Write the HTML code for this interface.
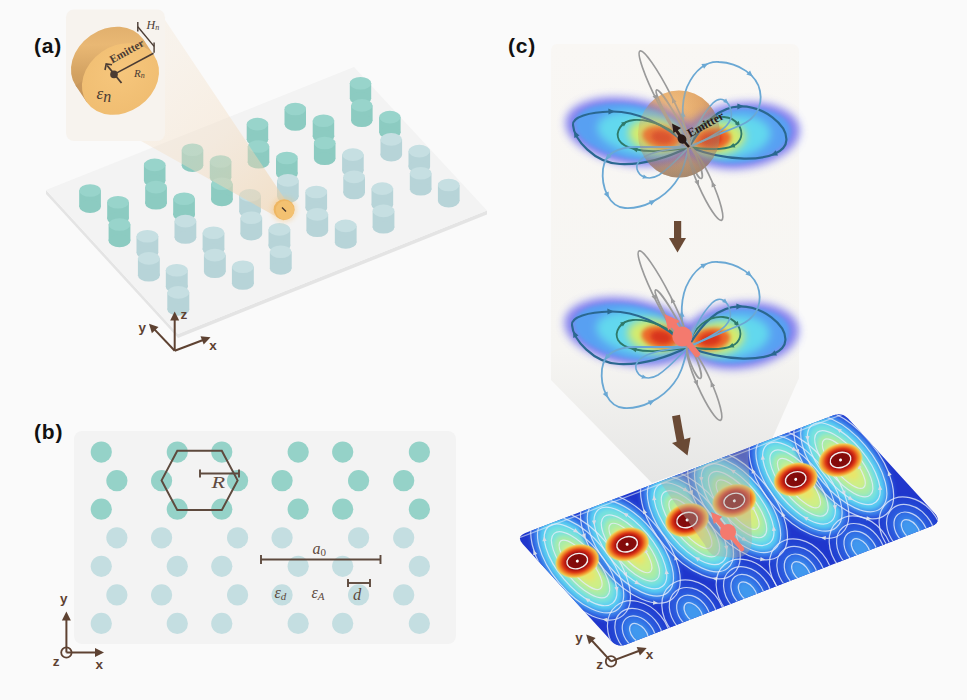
<!DOCTYPE html>
<html><head><meta charset="utf-8"><style>html,body{margin:0;padding:0;background:#fafafa;}svg{display:block;}</style></head>
<body><svg width="967" height="700" viewBox="0 0 967 700"><defs>
<filter id="blur1" x="-20%" y="-20%" width="140%" height="140%"><feGaussianBlur stdDeviation="0.6"/></filter>
<filter id="blur2" x="-30%" y="-30%" width="160%" height="160%"><feGaussianBlur stdDeviation="2"/></filter>
<filter id="blurL" x="-30%" y="-30%" width="160%" height="160%"><feGaussianBlur stdDeviation="4"/></filter>
<filter id="blur4" x="-30%" y="-30%" width="160%" height="160%"><feGaussianBlur stdDeviation="4"/></filter>
<linearGradient id="goldSide" x1="0" y1="0.9" x2="0.75" y2="0">
 <stop offset="0" stop-color="#c4935a"/><stop offset="0.4" stop-color="#d3a262"/><stop offset="0.75" stop-color="#e9b874"/><stop offset="1" stop-color="#e0ae6c"/>
</linearGradient>
<radialGradient id="goldFront" cx="0.55" cy="0.4" r="0.7">
 <stop offset="0" stop-color="#f6c67c"/><stop offset="1" stop-color="#efbc70"/>
</radialGradient>

<radialGradient id="lobeL" cx="0.62" cy="0.5" r="0.6" fx="0.72" fy="0.5">
 <stop offset="0" stop-color="#d8281a"/><stop offset="0.14" stop-color="#ee6a2a"/><stop offset="0.28" stop-color="#f4d24a"/>
 <stop offset="0.42" stop-color="#a6ec8a"/><stop offset="0.56" stop-color="#58dcec"/><stop offset="0.72" stop-color="#4a9cf4"/>
 <stop offset="0.88" stop-color="#4a62f0"/><stop offset="1" stop-color="#5a50f0" stop-opacity="0"/>
</radialGradient>
<radialGradient id="lobeR" cx="0.38" cy="0.5" r="0.6" fx="0.28" fy="0.5">
 <stop offset="0" stop-color="#d8281a"/><stop offset="0.14" stop-color="#ee6a2a"/><stop offset="0.28" stop-color="#f4d24a"/>
 <stop offset="0.42" stop-color="#a6ec8a"/><stop offset="0.56" stop-color="#58dcec"/><stop offset="0.72" stop-color="#4a9cf4"/>
 <stop offset="0.88" stop-color="#4a62f0"/><stop offset="1" stop-color="#5a50f0" stop-opacity="0"/>
</radialGradient>
<radialGradient id="sphere" cx="0.42" cy="0.2" r="0.85">
 <stop offset="0" stop-color="#f2b870"/><stop offset="0.5" stop-color="#dc9a58"/><stop offset="1" stop-color="#9c8068"/>
</radialGradient>
<radialGradient id="sphereRim" cx="0.4" cy="0.35" r="0.7">
 <stop offset="0.6" stop-color="#b08a68" stop-opacity="0"/><stop offset="1" stop-color="#9c7c62" stop-opacity="0.45"/>
</radialGradient>
<radialGradient id="pLobe" cx="0.5" cy="0.5" r="0.5" fx="0.5" fy="0.36">
 <stop offset="0" stop-color="#f0e466"/><stop offset="0.22" stop-color="#d4f078"/><stop offset="0.4" stop-color="#92ecc0"/><stop offset="0.56" stop-color="#5cd2f4"/><stop offset="0.72" stop-color="#4898f2"/><stop offset="0.87" stop-color="#2f5ee2"/><stop offset="1" stop-color="#2138cf" stop-opacity="0"/>
</radialGradient>
<radialGradient id="sHot" cx="0.5" cy="0.5" r="0.5">
 <stop offset="0" stop-color="#7e0a0a"/><stop offset="0.44" stop-color="#880c0c"/><stop offset="0.52" stop-color="#b01410"/><stop offset="0.66" stop-color="#dc3a16"/><stop offset="0.8" stop-color="#f08a2a"/><stop offset="0.91" stop-color="#f2c64e"/><stop offset="1" stop-color="#e8e070" stop-opacity="0"/>
</radialGradient>
<radialGradient id="pHot" cx="0.5" cy="0.5" r="0.5">
 <stop offset="0" stop-color="#7a0808"/><stop offset="0.45" stop-color="#920c0c"/><stop offset="0.6" stop-color="#c81c10"/><stop offset="0.75" stop-color="#f06a22"/><stop offset="0.88" stop-color="#f6b840"/><stop offset="1" stop-color="#f0e070" stop-opacity="0"/>
</radialGradient>
<radialGradient id="pLow" cx="0.5" cy="0.5" r="0.5">
 <stop offset="0" stop-color="#58c8f8"/><stop offset="0.45" stop-color="#3c8cf4"/><stop offset="1" stop-color="#2a50e0" stop-opacity="0"/>
</radialGradient>
<linearGradient id="planeBase" x1="0" y1="0" x2="1" y2="0">
 <stop offset="0" stop-color="#2a3fd8"/><stop offset="1" stop-color="#2438d4"/>
</linearGradient>
<linearGradient id="coneA" x1="160" y1="60" x2="285" y2="208" gradientUnits="userSpaceOnUse">
 <stop offset="0" stop-color="#f3e2cc" stop-opacity="0.32"/><stop offset="0.5" stop-color="#f3dcc0" stop-opacity="0.42"/><stop offset="1" stop-color="#f0cfa4" stop-opacity="0.55"/></linearGradient><linearGradient id="coneG" x1="0" y1="44" x2="0" y2="482" gradientUnits="userSpaceOnUse">
 <stop offset="0" stop-color="#f9f7f4"/><stop offset="0.7" stop-color="#f6f5f2"/><stop offset="1" stop-color="#e6e6e5"/></linearGradient></defs><rect width="967" height="700" fill="#fafafa"/><polygon points="46,190 178,334 487,210.5 487,214.5 178,338 46,194" fill="#e4e4e4"/>
<polygon points="46,190 354,67 487,210.5 178,334" fill="#f3f3f3"/>
<g filter="url(#blur1)"><rect x="349.8" y="83.2" width="21.4" height="15.2" fill="#8ccbc1"/><ellipse cx="360.5" cy="98.4" rx="10.7" ry="6.3" fill="#8ccbc1"/><ellipse cx="360.5" cy="83.2" rx="10.7" ry="6.3" fill="#98d4cb"/></g>
<g filter="url(#blur1)"><rect x="351.1" y="105.4" width="21.5" height="15.4" fill="#8ccbc1"/><ellipse cx="361.8" cy="120.8" rx="10.7" ry="6.3" fill="#8ccbc1"/><ellipse cx="361.8" cy="105.4" rx="10.7" ry="6.3" fill="#98d4cb"/></g>
<g filter="url(#blur1)"><rect x="284.5" y="109.0" width="21.5" height="15.4" fill="#8ccbc1"/><ellipse cx="295.3" cy="124.5" rx="10.7" ry="6.3" fill="#8ccbc1"/><ellipse cx="295.3" cy="109.0" rx="10.7" ry="6.3" fill="#98d4cb"/></g>
<g filter="url(#blur1)"><rect x="379.1" y="117.1" width="21.5" height="15.5" fill="#8ccbc1"/><ellipse cx="389.9" cy="132.6" rx="10.7" ry="6.3" fill="#8ccbc1"/><ellipse cx="389.9" cy="117.1" rx="10.7" ry="6.3" fill="#98d4cb"/></g>
<g filter="url(#blur1)"><rect x="312.7" y="120.7" width="21.5" height="15.5" fill="#8ccbc1"/><ellipse cx="323.5" cy="136.2" rx="10.8" ry="6.3" fill="#8ccbc1"/><ellipse cx="323.5" cy="120.7" rx="10.8" ry="6.3" fill="#98d4cb"/></g>
<g filter="url(#blur1)"><rect x="246.7" y="124.1" width="21.5" height="15.6" fill="#8ccbc1"/><ellipse cx="257.5" cy="139.6" rx="10.8" ry="6.3" fill="#8ccbc1"/><ellipse cx="257.5" cy="124.1" rx="10.8" ry="6.3" fill="#98d4cb"/></g>
<g filter="url(#blur1)"><rect x="380.5" y="139.4" width="21.6" height="15.7" fill="#b7d4d8"/><ellipse cx="391.2" cy="155.1" rx="10.8" ry="6.3" fill="#b7d4d8"/><ellipse cx="391.2" cy="139.4" rx="10.8" ry="6.3" fill="#c6dfe2"/></g>
<g filter="url(#blur1)"><rect x="313.9" y="143.0" width="21.6" height="15.7" fill="#8ccbc1"/><ellipse cx="324.7" cy="158.7" rx="10.8" ry="6.3" fill="#8ccbc1"/><ellipse cx="324.7" cy="143.0" rx="10.8" ry="6.3" fill="#98d4cb"/></g>
<g filter="url(#blur1)"><rect x="247.7" y="146.5" width="21.6" height="15.8" fill="#8ccbc1"/><ellipse cx="258.5" cy="162.2" rx="10.8" ry="6.3" fill="#8ccbc1"/><ellipse cx="258.5" cy="146.5" rx="10.8" ry="6.3" fill="#98d4cb"/></g>
<g filter="url(#blur1)"><rect x="181.7" y="149.8" width="21.6" height="15.8" fill="#8ccbc1"/><ellipse cx="192.5" cy="165.6" rx="10.8" ry="6.3" fill="#8ccbc1"/><ellipse cx="192.5" cy="149.8" rx="10.8" ry="6.3" fill="#98d4cb"/></g>
<g filter="url(#blur1)"><rect x="408.5" y="151.1" width="21.6" height="15.8" fill="#b7d4d8"/><ellipse cx="419.3" cy="166.9" rx="10.8" ry="6.3" fill="#b7d4d8"/><ellipse cx="419.3" cy="151.1" rx="10.8" ry="6.3" fill="#c6dfe2"/></g>
<g filter="url(#blur1)"><rect x="342.1" y="154.6" width="21.6" height="15.8" fill="#b7d4d8"/><ellipse cx="352.9" cy="170.4" rx="10.8" ry="6.3" fill="#b7d4d8"/><ellipse cx="352.9" cy="154.6" rx="10.8" ry="6.3" fill="#c6dfe2"/></g>
<g filter="url(#blur1)"><rect x="276.0" y="158.0" width="21.6" height="15.9" fill="#8ccbc1"/><ellipse cx="286.9" cy="173.9" rx="10.8" ry="6.3" fill="#8ccbc1"/><ellipse cx="286.9" cy="158.0" rx="10.8" ry="6.3" fill="#98d4cb"/></g>
<g filter="url(#blur1)"><rect x="209.8" y="161.5" width="21.6" height="15.9" fill="#8ccbc1"/><ellipse cx="220.6" cy="177.4" rx="10.8" ry="6.3" fill="#8ccbc1"/><ellipse cx="220.6" cy="161.5" rx="10.8" ry="6.3" fill="#98d4cb"/></g>
<g filter="url(#blur1)"><rect x="143.9" y="164.9" width="21.6" height="15.9" fill="#8ccbc1"/><ellipse cx="154.7" cy="180.8" rx="10.8" ry="6.3" fill="#8ccbc1"/><ellipse cx="154.7" cy="164.9" rx="10.8" ry="6.3" fill="#98d4cb"/></g>
<g filter="url(#blur1)"><rect x="409.8" y="173.3" width="21.7" height="16.0" fill="#b7d4d8"/><ellipse cx="420.7" cy="189.3" rx="10.8" ry="6.3" fill="#b7d4d8"/><ellipse cx="420.7" cy="173.3" rx="10.8" ry="6.3" fill="#c6dfe2"/></g>
<g filter="url(#blur1)"><rect x="343.3" y="176.9" width="21.7" height="16.0" fill="#b7d4d8"/><ellipse cx="354.1" cy="193.0" rx="10.8" ry="6.3" fill="#b7d4d8"/><ellipse cx="354.1" cy="176.9" rx="10.8" ry="6.3" fill="#c6dfe2"/></g>
<g filter="url(#blur1)"><rect x="277.0" y="180.4" width="21.7" height="16.0" fill="#b7d4d8"/><ellipse cx="287.9" cy="196.5" rx="10.8" ry="6.3" fill="#b7d4d8"/><ellipse cx="287.9" cy="180.4" rx="10.8" ry="6.3" fill="#c6dfe2"/></g>
<g filter="url(#blur1)"><rect x="211.1" y="183.8" width="21.7" height="16.1" fill="#8ccbc1"/><ellipse cx="221.9" cy="199.9" rx="10.8" ry="6.3" fill="#8ccbc1"/><ellipse cx="221.9" cy="183.8" rx="10.8" ry="6.3" fill="#98d4cb"/></g>
<g filter="url(#blur1)"><rect x="437.9" y="185.0" width="21.7" height="16.1" fill="#b7d4d8"/><ellipse cx="448.7" cy="201.1" rx="10.8" ry="6.3" fill="#b7d4d8"/><ellipse cx="448.7" cy="185.0" rx="10.8" ry="6.3" fill="#c6dfe2"/></g>
<g filter="url(#blur1)"><rect x="145.2" y="187.1" width="21.7" height="16.1" fill="#8ccbc1"/><ellipse cx="156.0" cy="203.2" rx="10.9" ry="6.3" fill="#8ccbc1"/><ellipse cx="156.0" cy="187.1" rx="10.9" ry="6.3" fill="#98d4cb"/></g>
<g filter="url(#blur1)"><rect x="371.5" y="188.6" width="21.7" height="16.1" fill="#b7d4d8"/><ellipse cx="382.3" cy="204.7" rx="10.9" ry="6.3" fill="#b7d4d8"/><ellipse cx="382.3" cy="188.6" rx="10.9" ry="6.3" fill="#c6dfe2"/></g>
<g filter="url(#blur1)"><rect x="79.2" y="190.5" width="21.7" height="16.1" fill="#8ccbc1"/><ellipse cx="90.1" cy="206.6" rx="10.9" ry="6.3" fill="#8ccbc1"/><ellipse cx="90.1" cy="190.5" rx="10.9" ry="6.3" fill="#98d4cb"/></g>
<g filter="url(#blur1)"><rect x="305.4" y="192.0" width="21.7" height="16.1" fill="#b7d4d8"/><ellipse cx="316.3" cy="208.1" rx="10.9" ry="6.3" fill="#b7d4d8"/><ellipse cx="316.3" cy="192.0" rx="10.9" ry="6.3" fill="#c6dfe2"/></g>
<g filter="url(#blur1)"><rect x="239.2" y="195.4" width="21.7" height="16.2" fill="#b7d4d8"/><ellipse cx="250.0" cy="211.6" rx="10.9" ry="6.3" fill="#b7d4d8"/><ellipse cx="250.0" cy="195.4" rx="10.9" ry="6.3" fill="#c6dfe2"/></g>
<g filter="url(#blur1)"><rect x="173.2" y="198.8" width="21.7" height="16.2" fill="#8ccbc1"/><ellipse cx="184.1" cy="215.0" rx="10.9" ry="6.3" fill="#8ccbc1"/><ellipse cx="184.1" cy="198.8" rx="10.9" ry="6.3" fill="#98d4cb"/></g>
<g filter="url(#blur1)"><rect x="107.2" y="202.2" width="21.7" height="16.2" fill="#8ccbc1"/><ellipse cx="118.0" cy="218.5" rx="10.9" ry="6.3" fill="#8ccbc1"/><ellipse cx="118.0" cy="202.2" rx="10.9" ry="6.3" fill="#98d4cb"/></g>
<g filter="url(#blur1)"><rect x="372.6" y="210.9" width="21.8" height="16.3" fill="#b7d4d8"/><ellipse cx="383.5" cy="227.2" rx="10.9" ry="6.3" fill="#b7d4d8"/><ellipse cx="383.5" cy="210.9" rx="10.9" ry="6.3" fill="#c6dfe2"/></g>
<g filter="url(#blur1)"><rect x="306.4" y="214.4" width="21.8" height="16.3" fill="#b7d4d8"/><ellipse cx="317.3" cy="230.7" rx="10.9" ry="6.3" fill="#b7d4d8"/><ellipse cx="317.3" cy="214.4" rx="10.9" ry="6.3" fill="#c6dfe2"/></g>
<g filter="url(#blur1)"><rect x="240.4" y="217.8" width="21.8" height="16.4" fill="#b7d4d8"/><ellipse cx="251.3" cy="234.1" rx="10.9" ry="6.3" fill="#b7d4d8"/><ellipse cx="251.3" cy="217.8" rx="10.9" ry="6.3" fill="#c6dfe2"/></g>
<g filter="url(#blur1)"><rect x="174.5" y="221.1" width="21.8" height="16.4" fill="#b7d4d8"/><ellipse cx="185.4" cy="237.5" rx="10.9" ry="6.3" fill="#b7d4d8"/><ellipse cx="185.4" cy="221.1" rx="10.9" ry="6.3" fill="#c6dfe2"/></g>
<g filter="url(#blur1)"><rect x="108.6" y="224.5" width="21.8" height="16.4" fill="#8ccbc1"/><ellipse cx="119.5" cy="240.9" rx="10.9" ry="6.3" fill="#8ccbc1"/><ellipse cx="119.5" cy="224.5" rx="10.9" ry="6.3" fill="#98d4cb"/></g>
<g filter="url(#blur1)"><rect x="334.8" y="225.9" width="21.8" height="16.4" fill="#b7d4d8"/><ellipse cx="345.7" cy="242.4" rx="10.9" ry="6.3" fill="#b7d4d8"/><ellipse cx="345.7" cy="225.9" rx="10.9" ry="6.3" fill="#c6dfe2"/></g>
<g filter="url(#blur1)"><rect x="268.5" y="229.4" width="21.8" height="16.5" fill="#b7d4d8"/><ellipse cx="279.4" cy="245.9" rx="10.9" ry="6.3" fill="#b7d4d8"/><ellipse cx="279.4" cy="229.4" rx="10.9" ry="6.3" fill="#c6dfe2"/></g>
<g filter="url(#blur1)"><rect x="202.6" y="232.8" width="21.8" height="16.5" fill="#b7d4d8"/><ellipse cx="213.5" cy="249.3" rx="10.9" ry="6.3" fill="#b7d4d8"/><ellipse cx="213.5" cy="232.8" rx="10.9" ry="6.3" fill="#c6dfe2"/></g>
<g filter="url(#blur1)"><rect x="136.5" y="236.2" width="21.8" height="16.5" fill="#b7d4d8"/><ellipse cx="147.4" cy="252.7" rx="10.9" ry="6.3" fill="#b7d4d8"/><ellipse cx="147.4" cy="236.2" rx="10.9" ry="6.3" fill="#c6dfe2"/></g>
<g filter="url(#blur1)"><rect x="269.8" y="251.7" width="21.9" height="16.7" fill="#b7d4d8"/><ellipse cx="280.7" cy="268.4" rx="10.9" ry="6.3" fill="#b7d4d8"/><ellipse cx="280.7" cy="251.7" rx="10.9" ry="6.3" fill="#c6dfe2"/></g>
<g filter="url(#blur1)"><rect x="203.9" y="255.1" width="21.9" height="16.7" fill="#b7d4d8"/><ellipse cx="214.8" cy="271.8" rx="10.9" ry="6.3" fill="#b7d4d8"/><ellipse cx="214.8" cy="255.1" rx="10.9" ry="6.3" fill="#c6dfe2"/></g>
<g filter="url(#blur1)"><rect x="137.9" y="258.4" width="21.9" height="16.7" fill="#b7d4d8"/><ellipse cx="148.9" cy="275.2" rx="11.0" ry="6.3" fill="#b7d4d8"/><ellipse cx="148.9" cy="258.4" rx="11.0" ry="6.3" fill="#c6dfe2"/></g>
<g filter="url(#blur1)"><rect x="231.9" y="266.8" width="21.9" height="16.8" fill="#b7d4d8"/><ellipse cx="242.9" cy="283.5" rx="11.0" ry="6.3" fill="#b7d4d8"/><ellipse cx="242.9" cy="266.8" rx="11.0" ry="6.3" fill="#c6dfe2"/></g>
<g filter="url(#blur1)"><rect x="165.8" y="270.2" width="21.9" height="16.8" fill="#b7d4d8"/><ellipse cx="176.8" cy="287.0" rx="11.0" ry="6.3" fill="#b7d4d8"/><ellipse cx="176.8" cy="270.2" rx="11.0" ry="6.3" fill="#c6dfe2"/></g>
<g filter="url(#blur1)"><rect x="167.3" y="292.4" width="22.0" height="17.0" fill="#b7d4d8"/><ellipse cx="178.3" cy="309.4" rx="11.0" ry="6.3" fill="#b7d4d8"/><ellipse cx="178.3" cy="292.4" rx="11.0" ry="6.3" fill="#c6dfe2"/></g>
<polygon points="141,141 158,9.5 287.5,203 284,221" fill="url(#coneA)"/>
<circle cx="284.1" cy="209.6" r="13" fill="#f6c47a" opacity="0.35" filter="url(#blur2)"/>
<ellipse cx="284.1" cy="209.6" rx="10.5" ry="10.3" fill="#eeb662"/>
<ellipse cx="285" cy="210.3" rx="9.2" ry="9.5" fill="#f3c171"/>
<line x1="282" y1="207.5" x2="286" y2="211.5" stroke="#3d2f28" stroke-width="1.2"/>
<rect x="66" y="9.5" width="99" height="131.5" rx="8" fill="#f7f3ee"/>
<ellipse cx="109.5" cy="62.5" rx="41" ry="33" transform="rotate(-35.0 109.5 62.5)" fill="url(#goldSide)"/>
<polygon points="86.6,102.0 75.6,85.5 143.4,39.5 154.4,56.0" fill="url(#goldSide)"/>
<ellipse cx="120.5" cy="79.0" rx="41" ry="33" transform="rotate(-35.0 120.5 79.0)" fill="url(#goldFront)"/>
<line x1="114" y1="74.4" x2="153.5" y2="53.3" stroke="#4a3b33" stroke-width="1.6"/>
<circle cx="114" cy="74.4" r="3.8" fill="#4a3b33"/>
<line x1="121.5" y1="83" x2="107.2" y2="65.5" stroke="#4a3b33" stroke-width="1.8"/>
<polyline points="105,70 106.2,64 112,64.8" fill="none" stroke="#4a3b33" stroke-width="1.6"/>
<line x1="137.8" y1="26.8" x2="154.1" y2="46.4" stroke="#4a3b33" stroke-width="1.4"/>
<line x1="137.8" y1="22" x2="137.8" y2="31.5" stroke="#4a3b33" stroke-width="1.4"/>
<line x1="154.1" y1="42.5" x2="154.1" y2="52.7" stroke="#4a3b33" stroke-width="1.4"/>
<text x="146.5" y="28.6" font-family="Liberation Serif, serif" font-style="italic" font-size="12" fill="#4a3b33">H<tspan font-size="8" dy="1.5">n</tspan></text>
<text x="134" y="76.5" font-family="Liberation Serif, serif" font-style="italic" font-size="11" fill="#4a3b33">R<tspan font-size="8" dy="1.2">n</tspan></text>
<text x="96.5" y="99" font-family="Liberation Serif, serif" font-style="italic" font-size="17" fill="#4a3b33">ε<tspan font-size="16" dy="2.5">n</tspan></text>
<text transform="translate(112.3,63.6) rotate(-29.3)" font-family="Liberation Serif, serif" font-weight="bold" font-size="11.2" fill="#4a3b33">Emitter</text>
<line x1="174.7" y1="350.7" x2="174.7" y2="318.8" stroke="#5e4232" stroke-width="2"/>
<polygon points="174.7,311.6 179.2,320.6 170.2,320.6" fill="#5e4232"/>
<text x="180.5" y="319.3" font-family="Liberation Sans, sans-serif" font-weight="bold" font-size="13.5" fill="#5e4232">z</text>
<line x1="174.7" y1="350.7" x2="154.0" y2="328.9" stroke="#5e4232" stroke-width="2"/>
<polygon points="149.0,323.7 158.5,327.1 151.9,333.3" fill="#5e4232"/>
<text x="138.6" y="331.5" font-family="Liberation Sans, sans-serif" font-weight="bold" font-size="13.5" fill="#5e4232">y</text>
<line x1="174.7" y1="350.7" x2="203.8" y2="339.7" stroke="#5e4232" stroke-width="2"/>
<polygon points="210.5,337.2 203.7,344.6 200.5,336.2" fill="#5e4232"/>
<text x="209.3" y="349.5" font-family="Liberation Sans, sans-serif" font-weight="bold" font-size="13.5" fill="#5e4232">x</text>
<text x="34" y="53.4" font-family="Liberation Sans, sans-serif" font-weight="bold" font-size="21" letter-spacing="0.8" fill="#111">(a)</text><rect x="74" y="431" width="382" height="213" rx="8" fill="#f3f3f3"/>
<circle cx="101.3" cy="452.1" r="10.6" fill="#95d2c8"/>
<circle cx="177.3" cy="452.1" r="10.6" fill="#95d2c8"/>
<circle cx="221.8" cy="452.1" r="10.6" fill="#95d2c8"/>
<circle cx="298.2" cy="452.1" r="10.6" fill="#95d2c8"/>
<circle cx="342.7" cy="452.1" r="10.6" fill="#95d2c8"/>
<circle cx="419.4" cy="452.1" r="10.6" fill="#95d2c8"/>
<circle cx="116.9" cy="480.7" r="10.6" fill="#95d2c8"/>
<circle cx="161.6" cy="480.7" r="10.6" fill="#95d2c8"/>
<circle cx="237.6" cy="480.7" r="10.6" fill="#95d2c8"/>
<circle cx="282.1" cy="480.7" r="10.6" fill="#95d2c8"/>
<circle cx="358.6" cy="480.7" r="10.6" fill="#95d2c8"/>
<circle cx="403.7" cy="480.7" r="10.6" fill="#95d2c8"/>
<circle cx="101.3" cy="509.2" r="10.6" fill="#95d2c8"/>
<circle cx="177.3" cy="509.2" r="10.6" fill="#95d2c8"/>
<circle cx="221.8" cy="509.2" r="10.6" fill="#95d2c8"/>
<circle cx="298.2" cy="509.2" r="10.6" fill="#95d2c8"/>
<circle cx="342.7" cy="509.2" r="10.6" fill="#95d2c8"/>
<circle cx="419.4" cy="509.2" r="10.6" fill="#95d2c8"/>
<circle cx="116.9" cy="537.8" r="10.6" fill="#c4dee1"/>
<circle cx="161.6" cy="537.8" r="10.6" fill="#c4dee1"/>
<circle cx="237.6" cy="537.8" r="10.6" fill="#c4dee1"/>
<circle cx="282.1" cy="537.8" r="10.6" fill="#c4dee1"/>
<circle cx="358.6" cy="537.8" r="10.6" fill="#c4dee1"/>
<circle cx="403.7" cy="537.8" r="10.6" fill="#c4dee1"/>
<circle cx="101.3" cy="566.3" r="10.6" fill="#c4dee1"/>
<circle cx="177.3" cy="566.3" r="10.6" fill="#c4dee1"/>
<circle cx="221.8" cy="566.3" r="10.6" fill="#c4dee1"/>
<circle cx="298.2" cy="566.3" r="10.6" fill="#c4dee1"/>
<circle cx="342.7" cy="566.3" r="10.6" fill="#c4dee1"/>
<circle cx="419.4" cy="566.3" r="10.6" fill="#c4dee1"/>
<circle cx="116.9" cy="594.9" r="10.6" fill="#c4dee1"/>
<circle cx="161.6" cy="594.9" r="10.6" fill="#c4dee1"/>
<circle cx="237.6" cy="594.9" r="10.6" fill="#c4dee1"/>
<circle cx="282.1" cy="594.9" r="10.6" fill="#c4dee1"/>
<circle cx="358.6" cy="594.9" r="10.6" fill="#c4dee1"/>
<circle cx="403.7" cy="594.9" r="10.6" fill="#c4dee1"/>
<circle cx="101.3" cy="623.4" r="10.6" fill="#c4dee1"/>
<circle cx="177.3" cy="623.4" r="10.6" fill="#c4dee1"/>
<circle cx="221.8" cy="623.4" r="10.6" fill="#c4dee1"/>
<circle cx="298.2" cy="623.4" r="10.6" fill="#c4dee1"/>
<circle cx="342.7" cy="623.4" r="10.6" fill="#c4dee1"/>
<circle cx="419.4" cy="623.4" r="10.6" fill="#c4dee1"/>
<polygon points="177.3,450.8 221.8,450.8 237.6,480.4 221.8,510.1 177.3,510.1 161.6,480.4" fill="none" stroke="#5e4a3e" stroke-width="2"/>
<line x1="200" y1="473.5" x2="239" y2="473.5" stroke="#5e4a3e" stroke-width="1.9"/>
<line x1="200" y1="469.5" x2="200" y2="477.5" stroke="#5e4a3e" stroke-width="1.9"/>
<line x1="239" y1="469.5" x2="239" y2="477.5" stroke="#5e4a3e" stroke-width="1.9"/>
<text transform="translate(211.5,487.6) scale(1.35,1)" font-family="Liberation Serif, serif" font-style="italic" font-size="16.5" fill="#5e4a3e">R</text>
<line x1="261" y1="559.5" x2="380.5" y2="559.5" stroke="#5e4a3e" stroke-width="1.9"/>
<line x1="261" y1="555" x2="261" y2="564" stroke="#5e4a3e" stroke-width="1.9"/>
<line x1="380.5" y1="555" x2="380.5" y2="564" stroke="#5e4a3e" stroke-width="1.9"/>
<text x="312.5" y="553.8" font-family="Liberation Serif, serif" font-style="italic" font-size="16" fill="#5e4a3e">a<tspan font-size="11" dy="2" font-style="normal">0</tspan></text>
<line x1="348" y1="583" x2="370" y2="583" stroke="#5e4a3e" stroke-width="1.9"/>
<line x1="348" y1="579" x2="348" y2="587" stroke="#5e4a3e" stroke-width="1.9"/>
<line x1="370" y1="579" x2="370" y2="587" stroke="#5e4a3e" stroke-width="1.9"/>
<text x="353" y="600.2" font-family="Liberation Serif, serif" font-style="italic" font-size="16.5" fill="#5e4a3e">d</text>
<text x="274.5" y="598.2" font-family="Liberation Serif, serif" font-style="italic" font-size="16" fill="#5e4a3e">ε<tspan font-size="11" dy="2">d</tspan></text>
<text x="311.5" y="598.2" font-family="Liberation Serif, serif" font-style="italic" font-size="16" fill="#5e4a3e">ε<tspan font-size="11" dy="2">A</tspan></text>
<line x1="66.4" y1="652.5" x2="66.4" y2="619" stroke="#5e4232" stroke-width="2"/>
<polygon points="66.4,611.5 70.9,620.5 61.9,620.5" fill="#5e4232"/>
<line x1="66.4" y1="652.5" x2="97" y2="652.5" stroke="#5e4232" stroke-width="2"/>
<polygon points="104.0,652.5 95.0,657.0 95.0,648.0" fill="#5e4232"/>
<circle cx="66.4" cy="652.5" r="5.2" fill="none" stroke="#5e4232" stroke-width="1.8"/>
<text x="60" y="603" font-family="Liberation Sans, sans-serif" font-weight="bold" font-size="13.5" fill="#5e4232">y</text>
<text x="52.8" y="665.5" font-family="Liberation Sans, sans-serif" font-weight="bold" font-size="13.5" fill="#5e4232">z</text>
<text x="95.6" y="668.8" font-family="Liberation Sans, sans-serif" font-weight="bold" font-size="13.5" fill="#5e4232">x</text>
<text x="34" y="438.6" font-family="Liberation Sans, sans-serif" font-weight="bold" font-size="21" letter-spacing="0.8" fill="#111">(b)</text><path d="M557,44 H791 Q799,44 799,52 V378 L772,439 L652,483 L551,380 V52 Q551,44 557,44 Z" fill="url(#coneG)"/>
<ellipse cx="679" cy="134" rx="41" ry="43.5" fill="url(#sphere)" opacity="0.85"/>
<g transform="translate(689,147) rotate(10)">
<ellipse cx="-60" cy="-5" rx="66" ry="33" fill="#5c58ee" opacity="0.75" filter="url(#blur4)"/>
<ellipse cx="-60" cy="-5" rx="57" ry="27" fill="#58a0f2" filter="url(#blur2)"/>
<ellipse cx="-52" cy="-5" rx="42.0" ry="21" fill="#62d8ee" filter="url(#blur4)"/>
<ellipse cx="-35" cy="-5" rx="27" ry="16" fill="#d6ec6c" filter="url(#blur4)"/>
<ellipse cx="-29" cy="-5" rx="19" ry="11" fill="#ec6a2a" filter="url(#blur2)"/>
<ellipse cx="-28" cy="-5" rx="11" ry="6.5" fill="#d8341e" filter="url(#blur2)"/>
</g>
<g transform="translate(689,147) rotate(-7)">
<ellipse cx="53" cy="-5" rx="59" ry="33" fill="#5c58ee" opacity="0.75" filter="url(#blur4)"/>
<ellipse cx="53" cy="-5" rx="50" ry="27" fill="#58a0f2" filter="url(#blur2)"/>
<ellipse cx="45" cy="-5" rx="37.8" ry="21" fill="#62d8ee" filter="url(#blur4)"/>
<ellipse cx="30" cy="-5" rx="27" ry="16" fill="#d6ec6c" filter="url(#blur4)"/>
<ellipse cx="24" cy="-5" rx="19" ry="11" fill="#ec6a2a" filter="url(#blur2)"/>
<ellipse cx="23" cy="-5" rx="11" ry="6.5" fill="#d8341e" filter="url(#blur2)"/>
</g>
<g transform="translate(689,147)" fill="none">
<path d="M0,0 C-25,-25 -55,-36 -78,-35.5 C-100,-35 -117,-30 -116,-22 C-115,-8 -95,16 -69,17 C-45,18 -20,10 0,0 Z" stroke="#2a6890" stroke-width="2.2"/>
<path d="M0,0 C15,-25 30,-40 51,-40.6 C75,-41 98,-22 97.4,-7 C97,5 80,12 55,11.6 C35,11 15,6 0,0 Z" stroke="#2a6890" stroke-width="2.2"/>
<polygon points="-74.1,-35.6 -80.5,-32.5 -80.7,-38.4" fill="#2a6890" stroke="none"/><polygon points="-114.9,-16.2 -109.5,-11.6 -114.7,-9.0" fill="#2a6890" stroke="none"/>
<polygon points="54.9,-40.7 48.4,-37.6 48.4,-43.5" fill="#2a6890" stroke="none"/><polygon points="81.8,8.5 86.7,3.2 89.0,8.6" fill="#2a6890" stroke="none"/>
<path d="M0,0 C-15,-20 -40,-28 -55,-27 C-68,-26 -74,-15 -70,-7 C-65,2 -45,5 -30,4 C-15,3 -5,2 0,0 Z" stroke="#2f7a6a" stroke-width="1.8"/>
<path d="M0,0 C5,-20 20,-31 35,-30 C48,-29 54,-18 52,-10 C50,-2 40,2 25,2 C15,2 5,1 0,0 Z" stroke="#2f7a6a" stroke-width="1.8"/>
<polygon points="-62.0,-25.6 -65.1,-20.5 -67.9,-24.6" fill="#2f7a6a" stroke="none"/><polygon points="-57.0,1.5 -51.0,0.3 -52.2,5.2" fill="#2f7a6a" stroke="none"/>
<polygon points="51.1,-20.0 45.8,-22.9 49.8,-25.9" fill="#2f7a6a" stroke="none"/><polygon points="40.3,0.3 44.4,-4.1 46.4,0.4" fill="#2f7a6a" stroke="none"/>
<path d="M0,0 C-8,-22 -8,-45 -2,-60 C6,-78 18,-86 30,-85 C50,-84 68,-72 71,-56 C74,-40 66,-28 52,-22 C38,-16 18,-8 0,0" stroke="#6aa8d4" stroke-width="1.8"/>
<path d="M0,0 C-4,14 -6,26 -14,36 C-26,52 -46,62 -64,61 C-80,60 -88,40 -86,22 C-84,6 -70,0 -52,0 C-34,0 -16,0 0,0" stroke="#6aa8d4" stroke-width="1.8"/>
<path d="M0,0 C6,-18 14,-34 24,-44 C32,-52 40,-46 42,-36 C44,-28 38,-20 28,-14 C18,-8 8,-3 0,0" stroke="#6aa8d4" stroke-width="1.6"/>
<path d="M0,0 C-8,8 -18,20 -30,28 C-40,34 -50,30 -52,22 C-54,14 -44,8 -32,5 C-20,2 -10,1 0,0" stroke="#6aa8d4" stroke-width="1.6"/>
<polygon points="-6.3,-36.2 -3.5,-30.3 -8.9,-30.2" fill="#6aa8d4" stroke="none"/><polygon points="19.0,-83.6 15.1,-78.3 12.4,-83.0" fill="#6aa8d4" stroke="none"/><polygon points="63.7,-70.4 57.4,-72.4 61.1,-76.4" fill="#6aa8d4" stroke="none"/>
<polygon points="-33.5,53.3 -37.7,58.4 -40.1,53.5" fill="#6aa8d4" stroke="none"/><polygon points="-80.1,51.1 -85.2,47.0 -80.4,44.5" fill="#6aa8d4" stroke="none"/><polygon points="-83.5,13.0 -81.7,6.6 -77.6,10.0" fill="#6aa8d4" stroke="none"/>
<polygon points="39.3,-43.4 34.1,-45.1 37.1,-48.5" fill="#6aa8d4" stroke="none"/>
<polygon points="-41.1,31.1 -46.6,31.8 -45.2,27.5" fill="#6aa8d4" stroke="none"/>
<ellipse cx="-24.5" cy="-48.0" rx="53.9" ry="7.5" transform="rotate(-117.0 -24.5 -48.0)" stroke="#9a9a9a" stroke-width="1.7"/>
<polygon points="-17.2,-49.4 -12.5,-45.6 -16.9,-43.4" fill="#9a9a9a" stroke="none"/>
<polygon points="-31.8,-46.6 -36.5,-50.4 -32.1,-52.6" fill="#9a9a9a" stroke="none"/>
<ellipse cx="-16.2" cy="-28.5" rx="32.8" ry="4" transform="rotate(-119.7 -16.2 -28.5)" stroke="#9a9a9a" stroke-width="1.7"/>
<ellipse cx="16.3" cy="36.6" rx="40.1" ry="7" transform="rotate(66.0 16.3 36.6)" stroke="#9a9a9a" stroke-width="1.7"/>
<polygon points="9.9,38.7 5.4,34.7 10.0,32.7" fill="#9a9a9a" stroke="none"/>
<polygon points="22.7,34.6 27.2,38.6 22.6,40.6" fill="#9a9a9a" stroke="none"/>
<ellipse cx="6.2" cy="15.7" rx="16.9" ry="3.5" transform="rotate(68.6 6.2 15.7)" stroke="#9a9a9a" stroke-width="1.7"/>
</g>
<ellipse cx="679" cy="134" rx="41" ry="43.5" fill="url(#sphere)" opacity="0.3"/>
<ellipse cx="679" cy="134" rx="41" ry="43.5" fill="url(#sphereRim)"/>
<ellipse cx="682" cy="139" rx="4.2" ry="5" transform="rotate(-35 682 139)" fill="#2a1a18"/>
<path d="M683,140 L676,130" stroke="#2a1a18" stroke-width="3"/><polygon points="672,123.5 681,128 673.5,133" fill="#2a1a18"/>
<path d="M682,139 L689,147" stroke="#2a1a18" stroke-width="2.5"/>
<text transform="translate(690,137.5) rotate(-29)" font-family="Liberation Serif, serif" font-weight="bold" font-size="12" fill="#2a1a18">Emitter</text>
<g transform="translate(688,347) rotate(10)">
<ellipse cx="-60" cy="-5" rx="66" ry="33" fill="#5c58ee" opacity="0.75" filter="url(#blur4)"/>
<ellipse cx="-60" cy="-5" rx="57" ry="27" fill="#58a0f2" filter="url(#blur2)"/>
<ellipse cx="-52" cy="-5" rx="42.0" ry="21" fill="#62d8ee" filter="url(#blur4)"/>
<ellipse cx="-35" cy="-5" rx="27" ry="16" fill="#d6ec6c" filter="url(#blur4)"/>
<ellipse cx="-29" cy="-5" rx="19" ry="11" fill="#ec6a2a" filter="url(#blur2)"/>
<ellipse cx="-28" cy="-5" rx="11" ry="6.5" fill="#d8341e" filter="url(#blur2)"/>
</g>
<g transform="translate(688,347) rotate(-7)">
<ellipse cx="53" cy="-5" rx="59" ry="33" fill="#5c58ee" opacity="0.75" filter="url(#blur4)"/>
<ellipse cx="53" cy="-5" rx="50" ry="27" fill="#58a0f2" filter="url(#blur2)"/>
<ellipse cx="45" cy="-5" rx="37.8" ry="21" fill="#62d8ee" filter="url(#blur4)"/>
<ellipse cx="30" cy="-5" rx="27" ry="16" fill="#d6ec6c" filter="url(#blur4)"/>
<ellipse cx="24" cy="-5" rx="19" ry="11" fill="#ec6a2a" filter="url(#blur2)"/>
<ellipse cx="23" cy="-5" rx="11" ry="6.5" fill="#d8341e" filter="url(#blur2)"/>
</g>
<g transform="translate(688,347)" fill="none">
<path d="M0,0 C-25,-25 -55,-36 -78,-35.5 C-100,-35 -117,-30 -116,-22 C-115,-8 -95,16 -69,17 C-45,18 -20,10 0,0 Z" stroke="#2a6890" stroke-width="2.2"/>
<path d="M0,0 C15,-25 30,-40 51,-40.6 C75,-41 98,-22 97.4,-7 C97,5 80,12 55,11.6 C35,11 15,6 0,0 Z" stroke="#2a6890" stroke-width="2.2"/>
<polygon points="-74.1,-35.6 -80.5,-32.5 -80.7,-38.4" fill="#2a6890" stroke="none"/><polygon points="-114.9,-16.2 -109.5,-11.6 -114.7,-9.0" fill="#2a6890" stroke="none"/>
<polygon points="54.9,-40.7 48.4,-37.6 48.4,-43.5" fill="#2a6890" stroke="none"/><polygon points="81.8,8.5 86.7,3.2 89.0,8.6" fill="#2a6890" stroke="none"/>
<path d="M0,0 C-15,-20 -40,-28 -55,-27 C-68,-26 -74,-15 -70,-7 C-65,2 -45,5 -30,4 C-15,3 -5,2 0,0 Z" stroke="#2f7a6a" stroke-width="1.8"/>
<path d="M0,0 C5,-20 20,-31 35,-30 C48,-29 54,-18 52,-10 C50,-2 40,2 25,2 C15,2 5,1 0,0 Z" stroke="#2f7a6a" stroke-width="1.8"/>
<polygon points="-62.0,-25.6 -65.1,-20.5 -67.9,-24.6" fill="#2f7a6a" stroke="none"/><polygon points="-57.0,1.5 -51.0,0.3 -52.2,5.2" fill="#2f7a6a" stroke="none"/>
<polygon points="51.1,-20.0 45.8,-22.9 49.8,-25.9" fill="#2f7a6a" stroke="none"/><polygon points="40.3,0.3 44.4,-4.1 46.4,0.4" fill="#2f7a6a" stroke="none"/>
<path d="M0,0 C-8,-22 -8,-45 -2,-60 C6,-78 18,-86 30,-85 C50,-84 68,-72 71,-56 C74,-40 66,-28 52,-22 C38,-16 18,-8 0,0" stroke="#6aa8d4" stroke-width="1.8"/>
<path d="M0,0 C-4,14 -6,26 -14,36 C-26,52 -46,62 -64,61 C-80,60 -88,40 -86,22 C-84,6 -70,0 -52,0 C-34,0 -16,0 0,0" stroke="#6aa8d4" stroke-width="1.8"/>
<path d="M0,0 C6,-18 14,-34 24,-44 C32,-52 40,-46 42,-36 C44,-28 38,-20 28,-14 C18,-8 8,-3 0,0" stroke="#6aa8d4" stroke-width="1.6"/>
<path d="M0,0 C-8,8 -18,20 -30,28 C-40,34 -50,30 -52,22 C-54,14 -44,8 -32,5 C-20,2 -10,1 0,0" stroke="#6aa8d4" stroke-width="1.6"/>
<polygon points="-6.3,-36.2 -3.5,-30.3 -8.9,-30.2" fill="#6aa8d4" stroke="none"/><polygon points="19.0,-83.6 15.1,-78.3 12.4,-83.0" fill="#6aa8d4" stroke="none"/><polygon points="63.7,-70.4 57.4,-72.4 61.1,-76.4" fill="#6aa8d4" stroke="none"/>
<polygon points="-33.5,53.3 -37.7,58.4 -40.1,53.5" fill="#6aa8d4" stroke="none"/><polygon points="-80.1,51.1 -85.2,47.0 -80.4,44.5" fill="#6aa8d4" stroke="none"/><polygon points="-83.5,13.0 -81.7,6.6 -77.6,10.0" fill="#6aa8d4" stroke="none"/>
<polygon points="39.3,-43.4 34.1,-45.1 37.1,-48.5" fill="#6aa8d4" stroke="none"/>
<polygon points="-41.1,31.1 -46.6,31.8 -45.2,27.5" fill="#6aa8d4" stroke="none"/>
<ellipse cx="-24.5" cy="-48.0" rx="53.9" ry="7.5" transform="rotate(-117.0 -24.5 -48.0)" stroke="#9a9a9a" stroke-width="1.7"/>
<polygon points="-17.2,-49.4 -12.5,-45.6 -16.9,-43.4" fill="#9a9a9a" stroke="none"/>
<polygon points="-31.8,-46.6 -36.5,-50.4 -32.1,-52.6" fill="#9a9a9a" stroke="none"/>
<ellipse cx="-16.2" cy="-28.5" rx="32.8" ry="4" transform="rotate(-119.7 -16.2 -28.5)" stroke="#9a9a9a" stroke-width="1.7"/>
<ellipse cx="16.3" cy="36.6" rx="40.1" ry="7" transform="rotate(66.0 16.3 36.6)" stroke="#9a9a9a" stroke-width="1.7"/>
<polygon points="9.9,38.7 5.4,34.7 10.0,32.7" fill="#9a9a9a" stroke="none"/>
<polygon points="22.7,34.6 27.2,38.6 22.6,40.6" fill="#9a9a9a" stroke="none"/>
<ellipse cx="6.2" cy="15.7" rx="16.9" ry="3.5" transform="rotate(68.6 6.2 15.7)" stroke="#9a9a9a" stroke-width="1.7"/>
</g>
<line x1="697" y1="354" x2="672" y2="323" stroke="#f47a6e" stroke-width="6" stroke-linecap="round"/>
<polygon points="664.5,314.0 679.8,320.9 668.1,330.4" fill="#f47a6e"/>
<circle cx="682.3" cy="336.5" r="10" fill="#f47a6e"/>
<rect x="674" y="221" width="7.2" height="18" fill="#6a4a35"/><polygon points="669,238 686,238 677.5,252.5" fill="#6a4a35"/>
<path d="M676,415.5 Q678.5,430 681,443" fill="none" stroke="#6a4a35" stroke-width="8"/><polygon points="672,443 690.5,437.5 687.5,455.5" fill="#6a4a35"/>
<clipPath id="planeClip"><path d="M522.7,544.0 Q516.0,536.6 525.3,533.0 L833.6,415.2 Q842.0,412.0 848.1,418.6 L934.4,513.1 Q942.5,522.0 931.3,526.3 L626.8,644.2 Q617.5,647.8 610.8,640.4 Z"/></clipPath>
<g clip-path="url(#planeClip)">
<g transform="matrix(0.54333,-0.20767,0.32833,0.36800,516.0,536.6)">
<rect x="-10" y="-10" width="620" height="320" fill="#2036cc"/>
</g>
<g transform="translate(639.0,633.7) rotate(50)" filter="url(#blur2)">
<ellipse rx="36.0" ry="28.0" fill="#2442d2"  />
<ellipse rx="28.0" ry="21.0" fill="#2a56dc"  />
<ellipse rx="20.0" ry="14.0" fill="#3274e6"  />
<ellipse rx="12.0" ry="8.0" fill="#4098ee"  />
</g>
<g transform="translate(693.4,612.9) rotate(50)" filter="url(#blur2)">
<ellipse rx="36.0" ry="28.0" fill="#2442d2"  />
<ellipse rx="28.0" ry="21.0" fill="#2a56dc"  />
<ellipse rx="20.0" ry="14.0" fill="#3274e6"  />
<ellipse rx="12.0" ry="8.0" fill="#4098ee"  />
</g>
<g transform="translate(747.7,592.1) rotate(50)" filter="url(#blur2)">
<ellipse rx="36.0" ry="28.0" fill="#2442d2"  />
<ellipse rx="28.0" ry="21.0" fill="#2a56dc"  />
<ellipse rx="20.0" ry="14.0" fill="#3274e6"  />
<ellipse rx="12.0" ry="8.0" fill="#4098ee"  />
</g>
<g transform="translate(801.0,571.8) rotate(50)" filter="url(#blur2)">
<ellipse rx="36.0" ry="28.0" fill="#2442d2"  />
<ellipse rx="28.0" ry="21.0" fill="#2a56dc"  />
<ellipse rx="20.0" ry="14.0" fill="#3274e6"  />
<ellipse rx="12.0" ry="8.0" fill="#4098ee"  />
</g>
<g transform="translate(860.7,548.9) rotate(50)" filter="url(#blur2)">
<ellipse rx="36.0" ry="28.0" fill="#2442d2"  />
<ellipse rx="28.0" ry="21.0" fill="#2a56dc"  />
<ellipse rx="20.0" ry="14.0" fill="#3274e6"  />
<ellipse rx="12.0" ry="8.0" fill="#4098ee"  />
</g>
<g transform="translate(910.7,529.8) rotate(50)" filter="url(#blur2)">
<ellipse rx="36.0" ry="28.0" fill="#2442d2"  />
<ellipse rx="28.0" ry="21.0" fill="#2a56dc"  />
<ellipse rx="20.0" ry="14.0" fill="#3274e6"  />
<ellipse rx="12.0" ry="8.0" fill="#4098ee"  />
</g>
<g transform="translate(580.6,564.8) rotate(50)" filter="url(#blur2)">
<g transform="translate(0,0)"><ellipse rx="66.0" ry="35.0" fill="#2e5ee0"  /></g>
<g transform="translate(0,0)"><ellipse rx="61.0" ry="31.0" fill="#418cee"  /></g>
<g transform="translate(0,0)"><ellipse rx="55.0" ry="27.0" fill="#58cef2"  /></g>
<g transform="translate(0,0)"><ellipse rx="47.0" ry="22.0" fill="#78e2dc"  /></g>
<g transform="translate(2,0)"><ellipse rx="38.0" ry="17.0" fill="#a8eca8"  /></g>
<g transform="translate(3,0)"><ellipse rx="28.0" ry="12.0" fill="#d0ee84"  /></g>
<g transform="translate(2,0)"><ellipse rx="18.0" ry="8.0" fill="#e8e66a"  /></g>
</g>
<g transform="translate(630.4,548.0) rotate(50)" filter="url(#blur2)">
<g transform="translate(0,0)"><ellipse rx="66.0" ry="35.0" fill="#2e5ee0"  /></g>
<g transform="translate(0,0)"><ellipse rx="61.0" ry="31.0" fill="#418cee"  /></g>
<g transform="translate(0,0)"><ellipse rx="55.0" ry="27.0" fill="#58cef2"  /></g>
<g transform="translate(0,0)"><ellipse rx="47.0" ry="22.0" fill="#78e2dc"  /></g>
<g transform="translate(2,0)"><ellipse rx="38.0" ry="17.0" fill="#a8eca8"  /></g>
<g transform="translate(3,0)"><ellipse rx="28.0" ry="12.0" fill="#d0ee84"  /></g>
<g transform="translate(2,0)"><ellipse rx="18.0" ry="8.0" fill="#e8e66a"  /></g>
</g>
<g transform="translate(690.4,523.7) rotate(50)" filter="url(#blur2)">
<g transform="translate(0,0)"><ellipse rx="66.0" ry="35.0" fill="#2e5ee0"  /></g>
<g transform="translate(0,0)"><ellipse rx="61.0" ry="31.0" fill="#418cee"  /></g>
<g transform="translate(0,0)"><ellipse rx="55.0" ry="27.0" fill="#58cef2"  /></g>
<g transform="translate(0,0)"><ellipse rx="47.0" ry="22.0" fill="#78e2dc"  /></g>
<g transform="translate(2,0)"><ellipse rx="38.0" ry="17.0" fill="#a8eca8"  /></g>
<g transform="translate(3,0)"><ellipse rx="28.0" ry="12.0" fill="#d0ee84"  /></g>
<g transform="translate(2,0)"><ellipse rx="18.0" ry="8.0" fill="#e8e66a"  /></g>
</g>
<g transform="translate(737.6,504.6) rotate(50)" filter="url(#blur2)">
<g transform="translate(0,0)"><ellipse rx="66.0" ry="35.0" fill="#2e5ee0"  /></g>
<g transform="translate(0,0)"><ellipse rx="61.0" ry="31.0" fill="#418cee"  /></g>
<g transform="translate(0,0)"><ellipse rx="55.0" ry="27.0" fill="#58cef2"  /></g>
<g transform="translate(0,0)"><ellipse rx="47.0" ry="22.0" fill="#78e2dc"  /></g>
<g transform="translate(2,0)"><ellipse rx="38.0" ry="17.0" fill="#a8eca8"  /></g>
<g transform="translate(3,0)"><ellipse rx="28.0" ry="12.0" fill="#d0ee84"  /></g>
<g transform="translate(2,0)"><ellipse rx="18.0" ry="8.0" fill="#e8e66a"  /></g>
</g>
<g transform="translate(799.0,483.1) rotate(50)" filter="url(#blur2)">
<g transform="translate(0,0)"><ellipse rx="66.0" ry="35.0" fill="#2e5ee0"  /></g>
<g transform="translate(0,0)"><ellipse rx="61.0" ry="31.0" fill="#418cee"  /></g>
<g transform="translate(0,0)"><ellipse rx="55.0" ry="27.0" fill="#58cef2"  /></g>
<g transform="translate(0,0)"><ellipse rx="47.0" ry="22.0" fill="#78e2dc"  /></g>
<g transform="translate(2,0)"><ellipse rx="38.0" ry="17.0" fill="#a8eca8"  /></g>
<g transform="translate(3,0)"><ellipse rx="28.0" ry="12.0" fill="#d0ee84"  /></g>
<g transform="translate(2,0)"><ellipse rx="18.0" ry="8.0" fill="#e8e66a"  /></g>
</g>
<g transform="translate(843.8,463.7) rotate(50)" filter="url(#blur2)">
<g transform="translate(0,0)"><ellipse rx="66.0" ry="35.0" fill="#2e5ee0"  /></g>
<g transform="translate(0,0)"><ellipse rx="61.0" ry="31.0" fill="#418cee"  /></g>
<g transform="translate(0,0)"><ellipse rx="55.0" ry="27.0" fill="#58cef2"  /></g>
<g transform="translate(0,0)"><ellipse rx="47.0" ry="22.0" fill="#78e2dc"  /></g>
<g transform="translate(2,0)"><ellipse rx="38.0" ry="17.0" fill="#a8eca8"  /></g>
<g transform="translate(3,0)"><ellipse rx="28.0" ry="12.0" fill="#d0ee84"  /></g>
<g transform="translate(2,0)"><ellipse rx="18.0" ry="8.0" fill="#e8e66a"  /></g>
</g>
<g transform="translate(580.6,564.8) rotate(50)" stroke="#e6ecfa" stroke-opacity="0.8" stroke-width="1.2">
<ellipse rx="66.0" ry="34.0" fill="none"  />
<ellipse rx="58.0" ry="28.0" fill="none"  />
<ellipse rx="50.0" ry="22.0" fill="none"  />
<ellipse rx="41.0" ry="16.0" fill="none"  />
<ellipse rx="31.0" ry="10.5" fill="none"  />
<polygon points="55.7,18.4 57.9,13.4 60.8,16.5" fill="#d8dce8" stroke="none"/>
<polygon points="-41.7,26.4 -36.2,26.2 -37.7,30.2" fill="#d8dce8" stroke="none"/>
<polygon points="-53.7,-19.9 -56.2,-15.1 -58.9,-18.4" fill="#d8dce8" stroke="none"/>
<polygon points="39.4,-27.3 34.0,-27.0 35.4,-30.9" fill="#d8dce8" stroke="none"/>
<polygon points="28.2,18.2 32.3,14.6 33.7,18.6" fill="#d8dce8" stroke="none"/>
<polygon points="-45.3,9.6 -40.0,10.8 -42.5,14.2" fill="#d8dce8" stroke="none"/>
<polygon points="-25.9,-18.9 -30.0,-15.4 -31.3,-19.4" fill="#d8dce8" stroke="none"/>
<polygon points="44.2,-10.5 38.9,-11.5 41.2,-15.0" fill="#d8dce8" stroke="none"/>
<polygon points="-15.9,9.1 -10.6,7.8 -11.2,11.9" fill="#d8dce8" stroke="none"/>
<polygon points="14.7,-9.3 9.4,-7.9 10.0,-12.1" fill="#d8dce8" stroke="none"/>
</g>
<g transform="translate(630.4,548.0) rotate(50)" stroke="#e6ecfa" stroke-opacity="0.8" stroke-width="1.2">
<ellipse rx="66.0" ry="34.0" fill="none"  />
<ellipse rx="58.0" ry="28.0" fill="none"  />
<ellipse rx="50.0" ry="22.0" fill="none"  />
<ellipse rx="41.0" ry="16.0" fill="none"  />
<ellipse rx="31.0" ry="10.5" fill="none"  />
<polygon points="60.1,14.2 57.9,19.2 55.0,16.1" fill="#d8dce8" stroke="none"/>
<polygon points="-36.0,28.5 -41.5,28.8 -40.0,24.8" fill="#d8dce8" stroke="none"/>
<polygon points="-58.3,-16.1 -55.8,-20.9 -53.1,-17.7" fill="#d8dce8" stroke="none"/>
<polygon points="33.8,-29.3 39.2,-29.6 37.8,-25.7" fill="#d8dce8" stroke="none"/>
<polygon points="33.9,16.2 29.9,19.9 28.5,15.9" fill="#d8dce8" stroke="none"/>
<polygon points="-40.4,13.1 -45.7,11.9 -43.2,8.5" fill="#d8dce8" stroke="none"/>
<polygon points="-31.6,-17.1 -27.5,-20.6 -26.2,-16.6" fill="#d8dce8" stroke="none"/>
<polygon points="39.2,-13.8 44.6,-12.8 42.2,-9.3" fill="#d8dce8" stroke="none"/>
<polygon points="-9.9,10.0 -15.2,11.3 -14.6,7.2" fill="#d8dce8" stroke="none"/>
<polygon points="8.7,-10.1 14.0,-11.5 13.4,-7.4" fill="#d8dce8" stroke="none"/>
</g>
<g transform="translate(690.4,523.7) rotate(50)" stroke="#e6ecfa" stroke-opacity="0.8" stroke-width="1.2">
<ellipse rx="66.0" ry="34.0" fill="none"  />
<ellipse rx="58.0" ry="28.0" fill="none"  />
<ellipse rx="50.0" ry="22.0" fill="none"  />
<ellipse rx="41.0" ry="16.0" fill="none"  />
<ellipse rx="31.0" ry="10.5" fill="none"  />
<polygon points="55.7,18.4 57.9,13.4 60.8,16.5" fill="#d8dce8" stroke="none"/>
<polygon points="-41.7,26.4 -36.2,26.2 -37.7,30.2" fill="#d8dce8" stroke="none"/>
<polygon points="-53.7,-19.9 -56.2,-15.1 -58.9,-18.4" fill="#d8dce8" stroke="none"/>
<polygon points="39.4,-27.3 34.0,-27.0 35.4,-30.9" fill="#d8dce8" stroke="none"/>
<polygon points="28.2,18.2 32.3,14.6 33.7,18.6" fill="#d8dce8" stroke="none"/>
<polygon points="-45.3,9.6 -40.0,10.8 -42.5,14.2" fill="#d8dce8" stroke="none"/>
<polygon points="-25.9,-18.9 -30.0,-15.4 -31.3,-19.4" fill="#d8dce8" stroke="none"/>
<polygon points="44.2,-10.5 38.9,-11.5 41.2,-15.0" fill="#d8dce8" stroke="none"/>
<polygon points="-15.9,9.1 -10.6,7.8 -11.2,11.9" fill="#d8dce8" stroke="none"/>
<polygon points="14.7,-9.3 9.4,-7.9 10.0,-12.1" fill="#d8dce8" stroke="none"/>
</g>
<g transform="translate(737.6,504.6) rotate(50)" stroke="#e6ecfa" stroke-opacity="0.8" stroke-width="1.2">
<ellipse rx="66.0" ry="34.0" fill="none"  />
<ellipse rx="58.0" ry="28.0" fill="none"  />
<ellipse rx="50.0" ry="22.0" fill="none"  />
<ellipse rx="41.0" ry="16.0" fill="none"  />
<ellipse rx="31.0" ry="10.5" fill="none"  />
<polygon points="60.1,14.2 57.9,19.2 55.0,16.1" fill="#d8dce8" stroke="none"/>
<polygon points="-36.0,28.5 -41.5,28.8 -40.0,24.8" fill="#d8dce8" stroke="none"/>
<polygon points="-58.3,-16.1 -55.8,-20.9 -53.1,-17.7" fill="#d8dce8" stroke="none"/>
<polygon points="33.8,-29.3 39.2,-29.6 37.8,-25.7" fill="#d8dce8" stroke="none"/>
<polygon points="33.9,16.2 29.9,19.9 28.5,15.9" fill="#d8dce8" stroke="none"/>
<polygon points="-40.4,13.1 -45.7,11.9 -43.2,8.5" fill="#d8dce8" stroke="none"/>
<polygon points="-31.6,-17.1 -27.5,-20.6 -26.2,-16.6" fill="#d8dce8" stroke="none"/>
<polygon points="39.2,-13.8 44.6,-12.8 42.2,-9.3" fill="#d8dce8" stroke="none"/>
<polygon points="-9.9,10.0 -15.2,11.3 -14.6,7.2" fill="#d8dce8" stroke="none"/>
<polygon points="8.7,-10.1 14.0,-11.5 13.4,-7.4" fill="#d8dce8" stroke="none"/>
</g>
<g transform="translate(799.0,483.1) rotate(50)" stroke="#e6ecfa" stroke-opacity="0.8" stroke-width="1.2">
<ellipse rx="66.0" ry="34.0" fill="none"  />
<ellipse rx="58.0" ry="28.0" fill="none"  />
<ellipse rx="50.0" ry="22.0" fill="none"  />
<ellipse rx="41.0" ry="16.0" fill="none"  />
<ellipse rx="31.0" ry="10.5" fill="none"  />
<polygon points="55.7,18.4 57.9,13.4 60.8,16.5" fill="#d8dce8" stroke="none"/>
<polygon points="-41.7,26.4 -36.2,26.2 -37.7,30.2" fill="#d8dce8" stroke="none"/>
<polygon points="-53.7,-19.9 -56.2,-15.1 -58.9,-18.4" fill="#d8dce8" stroke="none"/>
<polygon points="39.4,-27.3 34.0,-27.0 35.4,-30.9" fill="#d8dce8" stroke="none"/>
<polygon points="28.2,18.2 32.3,14.6 33.7,18.6" fill="#d8dce8" stroke="none"/>
<polygon points="-45.3,9.6 -40.0,10.8 -42.5,14.2" fill="#d8dce8" stroke="none"/>
<polygon points="-25.9,-18.9 -30.0,-15.4 -31.3,-19.4" fill="#d8dce8" stroke="none"/>
<polygon points="44.2,-10.5 38.9,-11.5 41.2,-15.0" fill="#d8dce8" stroke="none"/>
<polygon points="-15.9,9.1 -10.6,7.8 -11.2,11.9" fill="#d8dce8" stroke="none"/>
<polygon points="14.7,-9.3 9.4,-7.9 10.0,-12.1" fill="#d8dce8" stroke="none"/>
</g>
<g transform="translate(843.8,463.7) rotate(50)" stroke="#e6ecfa" stroke-opacity="0.8" stroke-width="1.2">
<ellipse rx="66.0" ry="34.0" fill="none"  />
<ellipse rx="58.0" ry="28.0" fill="none"  />
<ellipse rx="50.0" ry="22.0" fill="none"  />
<ellipse rx="41.0" ry="16.0" fill="none"  />
<ellipse rx="31.0" ry="10.5" fill="none"  />
<polygon points="60.1,14.2 57.9,19.2 55.0,16.1" fill="#d8dce8" stroke="none"/>
<polygon points="-36.0,28.5 -41.5,28.8 -40.0,24.8" fill="#d8dce8" stroke="none"/>
<polygon points="-58.3,-16.1 -55.8,-20.9 -53.1,-17.7" fill="#d8dce8" stroke="none"/>
<polygon points="33.8,-29.3 39.2,-29.6 37.8,-25.7" fill="#d8dce8" stroke="none"/>
<polygon points="33.9,16.2 29.9,19.9 28.5,15.9" fill="#d8dce8" stroke="none"/>
<polygon points="-40.4,13.1 -45.7,11.9 -43.2,8.5" fill="#d8dce8" stroke="none"/>
<polygon points="-31.6,-17.1 -27.5,-20.6 -26.2,-16.6" fill="#d8dce8" stroke="none"/>
<polygon points="39.2,-13.8 44.6,-12.8 42.2,-9.3" fill="#d8dce8" stroke="none"/>
<polygon points="-9.9,10.0 -15.2,11.3 -14.6,7.2" fill="#d8dce8" stroke="none"/>
<polygon points="8.7,-10.1 14.0,-11.5 13.4,-7.4" fill="#d8dce8" stroke="none"/>
</g>
<g transform="translate(639.0,633.7) rotate(50)" stroke="#e6ecfa" stroke-opacity="0.8" stroke-width="1.2">
<ellipse rx="36.0" ry="28.0" fill="none"  />
<ellipse rx="28.0" ry="21.0" fill="none"  />
<ellipse rx="20.0" ry="14.0" fill="none"  />
<ellipse rx="12.0" ry="7.0" fill="none"  />
</g>
<g transform="translate(693.4,612.9) rotate(50)" stroke="#e6ecfa" stroke-opacity="0.8" stroke-width="1.2">
<ellipse rx="36.0" ry="28.0" fill="none"  />
<ellipse rx="28.0" ry="21.0" fill="none"  />
<ellipse rx="20.0" ry="14.0" fill="none"  />
<ellipse rx="12.0" ry="7.0" fill="none"  />
</g>
<g transform="translate(747.7,592.1) rotate(50)" stroke="#e6ecfa" stroke-opacity="0.8" stroke-width="1.2">
<ellipse rx="36.0" ry="28.0" fill="none"  />
<ellipse rx="28.0" ry="21.0" fill="none"  />
<ellipse rx="20.0" ry="14.0" fill="none"  />
<ellipse rx="12.0" ry="7.0" fill="none"  />
</g>
<g transform="translate(801.0,571.8) rotate(50)" stroke="#e6ecfa" stroke-opacity="0.8" stroke-width="1.2">
<ellipse rx="36.0" ry="28.0" fill="none"  />
<ellipse rx="28.0" ry="21.0" fill="none"  />
<ellipse rx="20.0" ry="14.0" fill="none"  />
<ellipse rx="12.0" ry="7.0" fill="none"  />
</g>
<g transform="translate(860.7,548.9) rotate(50)" stroke="#e6ecfa" stroke-opacity="0.8" stroke-width="1.2">
<ellipse rx="36.0" ry="28.0" fill="none"  />
<ellipse rx="28.0" ry="21.0" fill="none"  />
<ellipse rx="20.0" ry="14.0" fill="none"  />
<ellipse rx="12.0" ry="7.0" fill="none"  />
</g>
<g transform="translate(910.7,529.8) rotate(50)" stroke="#e6ecfa" stroke-opacity="0.8" stroke-width="1.2">
<ellipse rx="36.0" ry="28.0" fill="none"  />
<ellipse rx="28.0" ry="21.0" fill="none"  />
<ellipse rx="20.0" ry="14.0" fill="none"  />
<ellipse rx="12.0" ry="7.0" fill="none"  />
</g>
<g transform="matrix(0.54333,-0.20767,0.32833,0.36800,516.0,536.6)"><line x1="0" y1="5" x2="600" y2="5" stroke="#e6ecfa" stroke-opacity="0.6" stroke-width="1.2" vector-effect="non-scaling-stroke"/></g>
<g transform="translate(577.3,561.1) rotate(-15)"><ellipse rx="23" ry="17" fill="url(#sHot)"/><ellipse rx="10.5" ry="7.5" fill="none" stroke="#f4eeee" stroke-width="1.4"/><circle r="1.5" fill="#fff"/></g>
<g transform="translate(627.1,544.3) rotate(-15)"><ellipse rx="23" ry="17" fill="url(#sHot)"/><ellipse rx="10.5" ry="7.5" fill="none" stroke="#f4eeee" stroke-width="1.4"/><circle r="1.5" fill="#fff"/></g>
<g transform="translate(687.1,520.0) rotate(-15)"><ellipse rx="23" ry="17" fill="url(#sHot)"/><ellipse rx="10.5" ry="7.5" fill="none" stroke="#f4eeee" stroke-width="1.4"/><circle r="1.5" fill="#fff"/></g>
<g transform="translate(734.3,500.9) rotate(-15)"><ellipse rx="23" ry="17" fill="url(#sHot)"/><ellipse rx="10.5" ry="7.5" fill="none" stroke="#f4eeee" stroke-width="1.4"/><circle r="1.5" fill="#fff"/></g>
<g transform="translate(795.7,479.4) rotate(-15)"><ellipse rx="23" ry="17" fill="url(#sHot)"/><ellipse rx="10.5" ry="7.5" fill="none" stroke="#f4eeee" stroke-width="1.4"/><circle r="1.5" fill="#fff"/></g>
<g transform="translate(840.5,460.0) rotate(-15)"><ellipse rx="23" ry="17" fill="url(#sHot)"/><ellipse rx="10.5" ry="7.5" fill="none" stroke="#f4eeee" stroke-width="1.4"/><circle r="1.5" fill="#fff"/></g>
<path d="M660,482 L748,448 L752,540 Q752,556 735,558 L716,556 Q708,554 705,545 Z" fill="#aeaea8" opacity="0.42"/>
</g>
<circle cx="728" cy="532" r="8" fill="#f47a6e"/>
<line x1="742" y1="549" x2="718" y2="521" stroke="#f47a6e" stroke-width="4.5" stroke-linecap="round"/>
<polygon points="711.0,512.0 722.3,516.8 713.9,523.9" fill="#f47a6e"/>
<text x="508" y="53.4" font-family="Liberation Sans, sans-serif" font-weight="bold" font-size="21" letter-spacing="0.8" fill="#111">(c)</text>
<line x1="611" y1="661.4" x2="591.1" y2="639.8" stroke="#5e4232" stroke-width="2"/>
<polygon points="586.2,634.5 595.6,638.1 589.0,644.2" fill="#5e4232"/>
<text x="575.2" y="641.8" font-family="Liberation Sans, sans-serif" font-weight="bold" font-size="13.5" fill="#5e4232">y</text>
<line x1="611" y1="661.4" x2="640.0" y2="650.5" stroke="#5e4232" stroke-width="2"/>
<polygon points="646.7,648.0 639.9,655.4 636.7,646.9" fill="#5e4232"/>
<text x="645.8" y="659.4" font-family="Liberation Sans, sans-serif" font-weight="bold" font-size="13.5" fill="#5e4232">x</text>
<circle cx="611" cy="661.4" r="5.2" fill="none" stroke="#5e4232" stroke-width="1.8"/>
<text x="596.3" y="668.8" font-family="Liberation Sans, sans-serif" font-weight="bold" font-size="13.5" fill="#5e4232">z</text></svg></body></html>
